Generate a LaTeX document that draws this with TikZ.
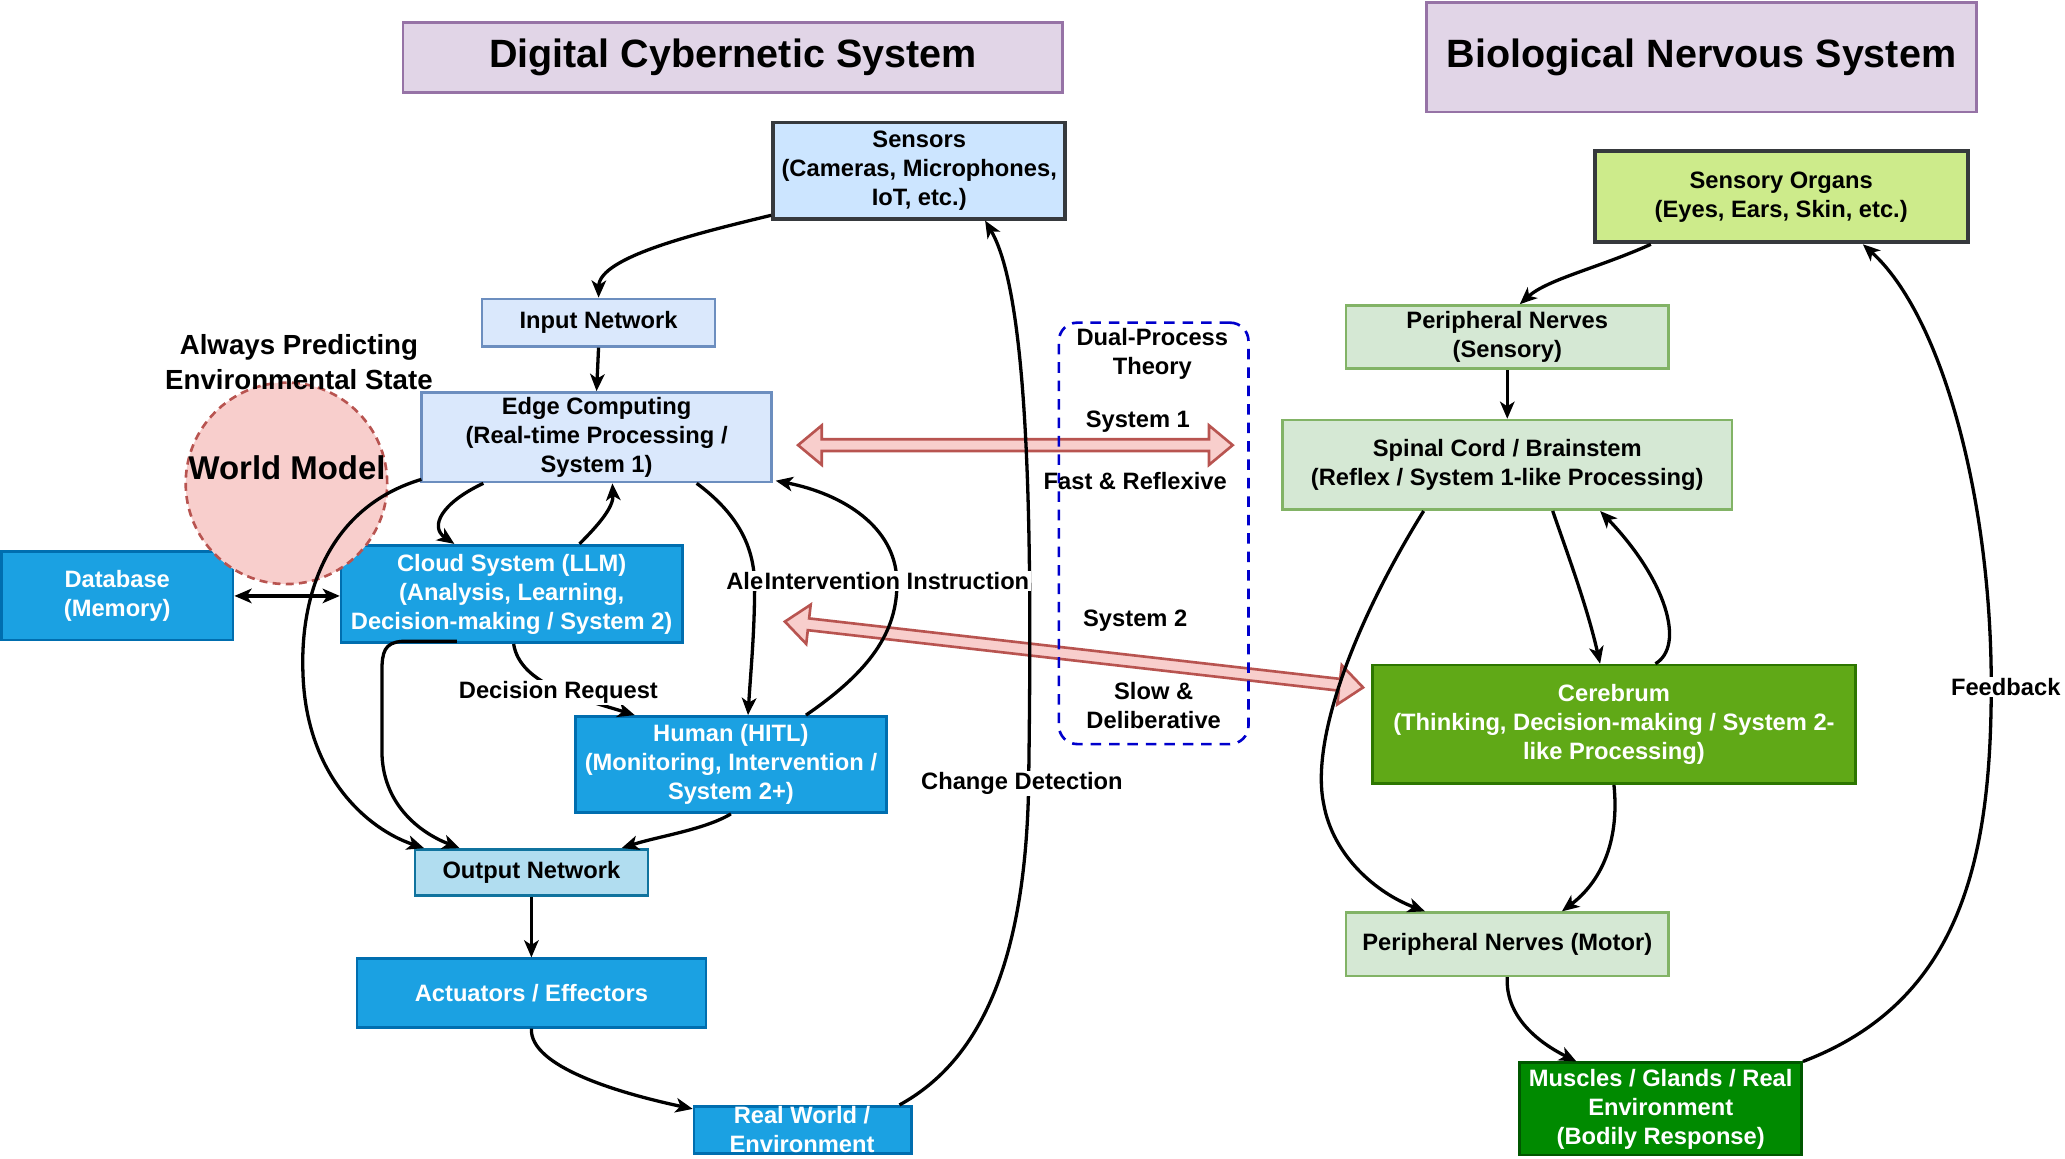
\documentclass[tikz,border=0pt]{standalone}
\usepackage{fontspec}
\setmainfont{Liberation Sans}
\usetikzlibrary{arrows.meta,calc}
\definecolor{ttlfill}{HTML}{E1D5E7}\definecolor{ttldraw}{HTML}{9673A6}
\definecolor{senfill}{HTML}{CCE5FF}\definecolor{dkdraw}{HTML}{36393D}
\definecolor{lbfill}{HTML}{DAE8FC}\definecolor{lbdraw}{HTML}{6C8EBF}
\definecolor{bbfill}{HTML}{1BA1E2}\definecolor{bbdraw}{HTML}{006EAF}
\definecolor{onfill}{HTML}{B1DDF0}\definecolor{ondraw}{HTML}{10739E}
\definecolor{sofill}{HTML}{CDEB8B}
\definecolor{lgfill}{HTML}{D5E8D4}\definecolor{lgdraw}{HTML}{82B366}
\definecolor{cbfill}{HTML}{60A917}\definecolor{cbdraw}{HTML}{2D7600}
\definecolor{mufill}{HTML}{008A00}\definecolor{mudraw}{HTML}{005700}
\definecolor{rdfill}{HTML}{F8CECC}\definecolor{rddraw}{HTML}{B85450}
\definecolor{dpdraw}{HTML}{0000CC}
\newcommand\dblarrow[2]{%
  \coordinate (p1) at ($(#1)!18pt!(#2)$);
  \coordinate (p2) at ($(#2)!18pt!(#1)$);
  \draw[bigarrow] (#1) -- ($(p1)!15pt!90:(#2)$) -- ($(p1)!4.5pt!90:(#2)$)
    -- ($(p2)!4.5pt!-90:(#1)$) -- ($(p2)!15pt!-90:(#1)$) -- (#2)
    -- ($(p2)!15pt!90:(#1)$) -- ($(p2)!4.5pt!90:(#1)$)
    -- ($(p1)!4.5pt!-90:(#2)$) -- ($(p1)!15pt!-90:(#2)$) -- cycle;}
\begin{document}
\begin{tikzpicture}[x=1pt,y=-1pt,
  txt/.style={font=\bfseries\fontsize{18}{22}\selectfont, align=center, inner sep=0pt},
  box/.style={txt, draw, line width=2pt, rectangle},
  ttl/.style={box, fill=ttlfill, draw=ttldraw, font=\bfseries\fontsize{30}{36}\selectfont},
  lbox/.style={box, fill=lbfill, draw=lbdraw},
  bbox/.style={box, fill=bbfill, draw=bbdraw, text=white},
  gbox/.style={box, fill=lgfill, draw=lgdraw},
  lbl/.style={txt, fill=white, inner sep=1pt},
  tip/.tip={Stealth[length=13pt,width=11pt,inset=3.5pt]},
  conn/.style={draw, line width=2.5pt, -tip},
  bigarrow/.style={draw=rddraw, fill=rdfill, line width=2pt, line join=miter}]
\useasboundingbox (0,0) rectangle (1568,880);

% titles
\node[ttl, minimum width=501, minimum height=53] (t1) at (556.5,43.5) {Digital Cybernetic System};
\node[ttl, minimum width=418, minimum height=83] (t2) at (1292,43.5) {Biological Nervous System};

% block arrows (underneath)
\coordinate (b1l) at (606,338); \coordinate (b1r) at (936,338);
\coordinate (b2l) at (596,472); \coordinate (b2r) at (1035,522);
\dblarrow{b1l}{b1r}
\dblarrow{b2l}{b2r}

% dual process box
\node[draw=dpdraw, line width=2pt, dash pattern=on 8pt off 6pt, rounded corners=14pt,
  minimum width=144, minimum height=320] (dual) at (876,405) {};
\node[txt] (dpt) at (875,269) {Dual-Process\\Theory};
\node[txt] (s1t) at (864,320) {System 1};
\node[txt] (frt) at (862,365) {Fast \& Reflexive};
\node[txt] (s2t) at (862,471) {System 2};
\node[txt] (sdt) at (876,536) {Slow \&\\Deliberative};

% digital nodes
\node[box, fill=senfill, draw=dkdraw, line width=3pt, minimum width=222, minimum height=73] (sensors) at (698,129.5) {Sensors\\(Cameras, Microphones,\\IoT, etc.)};
\node[lbox, minimum width=177, minimum height=36] (input) at (454.5,245) {Input Network};
\node[lbox, minimum width=266, minimum height=68] (edge) at (453,332) {Edge Computing\\(Real-time Processing /\\System 1)};
\node[bbox, minimum width=176, minimum height=67] (db) at (89,452.5) {Database\\(Memory)};
\node[bbox, minimum width=259, minimum height=74] (cloud) at (388.5,451) {Cloud System (LLM)\\(Analysis, Learning,\\Decision-making / System 2)};
\node[draw=rddraw, fill=rdfill, line width=2pt, dash pattern=on 6pt off 4pt, circle, minimum size=153, inner sep=0pt] (wm) at (217.5,367) {};
\node[txt, font=\bfseries\fontsize{25}{30}\selectfont] (wmt) at (218,355) {World Model};
\node[txt, font=\bfseries\fontsize{21}{26}\selectfont] (apt) at (227,275) {Always Predicting\\Environmental State};
\node[bbox, minimum width=236, minimum height=73] (human) at (555,580.5) {Human (HITL)\\(Monitoring, Intervention /\\System 2+)};
\node[box, fill=onfill, draw=ondraw, minimum width=177, minimum height=35] (output) at (403.5,662.5) {Output Network};
\node[bbox, minimum width=265, minimum height=52] (act) at (403.5,754) {Actuators / Effectors};
\node[bbox, minimum width=165, minimum height=36] (rw) at (609.5,858) {};
\node[txt, text=white] (rwt) at (609,858) {Real World /\\Environment};

% biological nodes
\node[box, fill=sofill, draw=dkdraw, line width=3pt, minimum width=283, minimum height=69] (so) at (1352.5,149.5) {Sensory Organs\\(Eyes, Ears, Skin, etc.)};
\node[gbox, minimum width=245, minimum height=48] (pns) at (1144.5,256) {Peripheral Nerves\\(Sensory)};
\node[gbox, minimum width=341, minimum height=68] (spinal) at (1144.5,353) {Spinal Cord / Brainstem\\(Reflex / System 1-like Processing)};
\node[box, fill=cbfill, draw=cbdraw, text=white, minimum width=367, minimum height=90] (cer) at (1225.5,550) {Cerebrum\\(Thinking, Decision-making / System 2-\\like Processing)};
\node[gbox, minimum width=245, minimum height=48] (pnm) at (1144.5,717) {Peripheral Nerves (Motor)};
\node[box, fill=mufill, draw=mudraw, text=white, minimum width=214, minimum height=70] (mus) at (1261,842) {Muscles / Glands / Real\\Environment\\(Bodily Response)};

% digital connectors
\draw[conn] ($(sensors.south west)+(0,-4)$) .. controls (530,177) and (455,195) .. (input.north);
\draw[conn] (input.south) -- (edge.north);
\draw[conn] ($(edge.south west)+(48,0)$) .. controls (335,382) and (326,400) .. ($(cloud.north west)+(87,0)$);
\draw[conn] ($(cloud.north west)+(182,0)$) .. controls (455,398) and (466,385) .. ($(edge.south west)+(146,0)$);
\draw[conn] ($(edge.south west)+(1,-3)$) .. controls (250,385) and (228,450) .. (230,510) .. controls (232,590) and (280,630) .. ($(output.north west)+(8,0)$);
\draw[conn] ($(cloud.south west)+(89,-2)$) -- (305,487) .. controls (292,488) and (290,495) .. (290,510) -- (290,570) .. controls (290,610) and (318,632) .. ($(output.north west)+(35,0)$);
\draw[conn] ($(human.south west)+(119,0)$) .. controls (535,630) and (500,635) .. ($(output.north east)+(-21,0)$);
\draw[conn] (output.south) -- (act.north);
\draw[conn] (act.south) .. controls (402,810) and (470,830) .. ($(rw.north west)+(0,3)$);
\draw[conn] ($(rw.north east)+(-10,0)$) .. controls (745,805) and (778,730) .. (781,600) .. controls (783,450) and (785,230) .. ($(sensors.south)+(50,0)$);
\draw[line width=2.5pt, tip-tip] (db.east) -- (db.east -| cloud.west);
\draw[conn] ($(edge.south east)+(-58,0)$) .. controls (560,390) and (573,415) .. (573,445) .. controls (573,480) and (570,510) .. ($(human.north west)+(132,0)$);
\draw[conn] ($(human.north west)+(176,0)$) .. controls (660,510) and (682,480) .. (681,441) .. controls (680,400) and (640,375) .. ($(edge.south east)+(2,-2)$);
\draw[conn] ($(cloud.south west)+(132,0)$) .. controls (395,520) and (440,530) .. ($(human.north west)+(46,0)$);

% biological connectors
\draw[conn] ($(so.south west)+(44,0)$) .. controls (1215,203) and (1175,212) .. ($(pns.north west)+(133,0)$);
\draw[conn] (pns.south) -- (spinal.north);
\draw[conn] ($(spinal.south west)+(206,0)$) .. controls (1190,420) and (1205,460) .. ($(cer.north west)+(174,0)$);
\draw[conn] ($(cer.north west)+(216,0)$) .. controls (1280,490) and (1265,440) .. ($(spinal.south west)+(242,0)$);
\draw[conn] ($(spinal.south west)+(108,0)$) .. controls (1030,470) and (995,560) .. (1005,610) .. controls (1012,650) and (1045,678) .. ($(pnm.north west)+(61,0)$);
\draw[conn] (cer.south) .. controls (1230,640) and (1215,670) .. ($(pnm.north west)+(165,0)$);
\draw[conn] (pnm.south) .. controls (1143,770) and (1165,790) .. ($(mus.north west)+(44,0)$);
\draw[conn] (mus.north east) .. controls (1490,760) and (1512,650) .. (1512,520) .. controls (1512,380) and (1475,240) .. ($(so.south west)+(205,0)$);

% edge labels
\node[lbl] (alertl) at (572,441) {Alert};
\node[lbl] (intl) at (681,441) {Intervention Instruction};
\node[lbl] (decl) at (424,526) {Decision Request};
\node[lbl] (chgl) at (776,595) {Change Detection};
\node[lbl] (fbl) at (1523,522) {Feedback};
\end{tikzpicture}
\end{document}
